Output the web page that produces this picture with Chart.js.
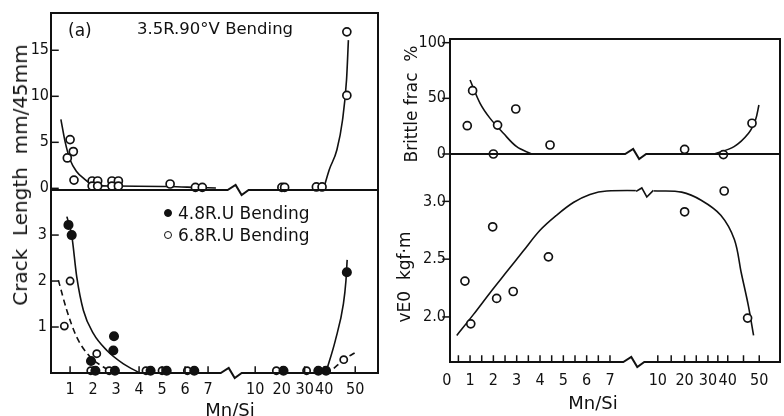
<!DOCTYPE html>
<html><head><meta charset="utf-8">
<script src="https://cdn.jsdelivr.net/npm/chart.js@4"></script>
<style>
html,body{margin:0;padding:0;background:#fff;overflow:hidden;width:784px;height:416px;}
#wrap{position:relative;width:784px;height:416px;overflow:hidden;font-family:"DejaVu Sans",sans-serif;color:#111;}
canvas{position:absolute;}
.t{position:absolute;white-space:nowrap;line-height:1;}
.rot{transform:translate(-50%,-50%) rotate(-90deg);}
.ctr{transform:translate(-50%,-50%);}
.mk{display:inline-block;width:8px;height:8px;border-radius:50%;border:1.6px solid #111;box-sizing:border-box;vertical-align:middle;margin-right:6px;position:relative;top:-1px;}
</style></head><body><div id="wrap">
<canvas id="c1" width="390" height="200" style="left:0;top:0"></canvas>
<canvas id="c2" width="390" height="240" style="left:0;top:190px"></canvas>
<canvas id="c3" width="394" height="165" style="left:390px;top:0"></canvas>
<canvas id="c4" width="394" height="262" style="left:390px;top:154px"></canvas>
<div class="t" style="left:68px;top:22px;font-size:17px">(a)</div>
<div class="t" style="left:137px;top:21px;font-size:16.5px">3.5R.90°V Bending</div>
<div id="legend"></div>
<div class="t rot" style="left:20px;top:175px;font-size:20px">Crack&nbsp; Length&nbsp; mm/45mm</div>
<div class="t rot" style="left:411px;top:104px;font-size:17px">Brittle frac&nbsp; %</div>
<div class="t rot" style="left:404px;top:277px;font-size:17px">vE0&nbsp; kgf·m</div>
<div class="t ctr" style="left:230px;top:410px;font-size:18px">Mn/Si</div>
<div class="t ctr" style="left:593px;top:403px;font-size:18px">Mn/Si</div>
</div>
<script>
// ---------- axis tick values / labels ----------
const leftTickValues  = [1,2,3,4,5,6,7,10,20,30,40,50];
const leftTickLabels  = ['1','2','3','4','5','6','7','10','20','30','40','50'];
const rightTickValues = [0,1,2,3,4,5,6,7,10,20,30,40,50];
const rightTickLabels = ['0','1','2','3','4','5','6','7','10','20','30','40','50'];
const leftMinorTicks  = [1,2,3,4,5,6,7,10,20,30,40,50];
const rightMinorTicks = [0.5,1,1.5,2,2.5,3,3.5,4,4.5,5,5.5,6,6.5,7,10,15,20,25,30,35,40,45,50];
const crackTopTicks = [0,5,10,15];
const crackTopLabels = ['0','5','10','15'];
const crackBottomTicks = [1,2,3];
const crackBottomLabels = ['1','2','3'];
const brittleTicks = [0,50,100];
const brittleLabels = ['0','50','100'];
const ve0Ticks = [2.0,2.5,3.0];
const ve0Labels = ['2.0','2.5','3.0'];

// broken Mn/Si axis: value -> axis position
const axisBreakValues    = [0,1,2,3,4,5,6,7,10,20,30,40,50];
const axisBreakPositions = [0,1,2,3,4,5,6,7,9.05,10.2,11.2,12.05,13.4];

// ---------- (a) 3.5R.90°V Bending ----------
const vBendX = [0.88,1.0,1.14,1.17,1.96,2.2,1.96,2.2,2.82,3.1,2.82,3.1,5.35,6.45,6.75,20.1,21.3,36,38.9,47.3,47.3];
const vBendY = [3.3,5.3,4.0,0.9,0.8,0.8,0.25,0.25,0.8,0.8,0.25,0.25,0.47,0.1,0.1,0.1,0.1,0.15,0.15,10.1,17.0];
const vBendFitLowX  = [0.6,0.78,1.0,1.29,1.58,1.87,2.3,3.0,5.3,6.5,7.5];
const vBendFitLowY  = [7.5,5.1,3.1,1.8,1.1,0.55,0.3,0.25,0.2,0.1,0.03];
const vBendFitHighX = [40,41.6,44.1,45.9,47.2,47.8];
const vBendFitHighY = [0.17,2.0,4.2,7.4,11.8,16.1];

// ---------- U bending ----------
const legendNames = ['4.8R.U Bending','6.8R.U Bending'];
const u48X = [0.93,1.07,2.91,2.88,1.91,2.1,2.95,4.5,5.2,6.4,20.8,37,40.6,47.3];
const u48Y = [3.22,3.0,0.8,0.49,0.26,0.05,0.05,0.05,0.05,0.05,0.05,0.05,0.05,2.19];
const u68X = [0.75,1.0,2.16,1.9,2.7,4.3,5.0,6.1,18,31,46.3];
const u68Y = [1.02,2.0,0.42,0.05,0.05,0.05,0.05,0.05,0.05,0.05,0.29];
const u48FitLowX  = [0.86,1.07,1.29,1.58,2.01,2.6,3.32,4.04];
const u48FitLowY  = [3.4,3.0,2.09,1.36,0.86,0.49,0.2,0];
const u48FitHighX = [40.5,43.6,46.2,47.0,47.4];
const u48FitHighY = [0,0.71,1.51,2.0,2.46];
const u68FitLowX  = [0.49,0.86,1.29,1.87,2.45,2.81];
const u68FitLowY  = [2.02,1.36,0.78,0.35,0.13,0.02];
const u68FitHighX = [43.1,46.3,49.9];
const u68FitHighY = [0.1,0.29,0.44];

// ---------- Brittle fracture % ----------
const brittleX = [0.88,1.11,2.0,2.18,2.96,4.43,20,37.8,47.7];
const brittleY = [25.4,56.9,0,26,40.4,8.1,4.2,-0.5,27.6];
const brittleFitLowX  = [1.0,1.43,1.86,2.43,3.0,3.64];
const brittleFitLowY  = [66.5,45.5,32,18.6,6.6,0];
const brittleFitHighX = [33.2,42,46.6,48.8,49.9];
const brittleFitHighY = [0,6.6,18.6,30.5,44];

// ---------- vE0 kgf·m ----------
const ve0X = [0.78,1.03,1.97,2.14,2.85,4.36,20,38.2,46.3];
const ve0Y = [2.31,1.94,2.78,2.16,2.22,2.52,2.91,3.09,1.99];
const ve0FitX = [0.43,1.14,1.86,2.57,3.28,4.0,4.71,5.43,6.14,6.86,10,18.9,27.1,36.5,42.1,44.3,46.6,48.2];
const ve0FitY = [1.84,2.02,2.21,2.39,2.57,2.75,2.88,2.99,3.06,3.09,3.09,3.08,3.01,2.88,2.67,2.38,2.09,1.84];

// ======================================================
const INK = '#111';
const TICK_FONT = '"DejaVu Sans Condensed", "Liberation Sans Narrow", "DejaVu Sans", sans-serif';
Chart.defaults.font.family = '"DejaVu Sans", sans-serif';
Chart.defaults.font.size = 15;
Chart.defaults.color = INK;
Chart.defaults.animation = false;

function toPos(v){
  const xs = axisBreakValues, ps = axisBreakPositions;
  if (v <= xs[0]) return ps[0] + (v - xs[0]);
  for (let i = 1; i < xs.length; i++) {
    if (v <= xs[i]) { const t = (v - xs[i-1]) / (xs[i] - xs[i-1]); return ps[i-1] + t * (ps[i] - ps[i-1]); }
  }
  const n = xs.length - 1;
  return ps[n] + (v - xs[n]) * (ps[n] - ps[n-1]) / (xs[n] - xs[n-1]);
}
const pts = (xs, ys) => xs.map((v, i) => ({x: toPos(v), y: ys[i]}));

const markers = (xs, ys, filled, r) => ({
  data: pts(xs, ys), showLine: false, clip: false,
  pointStyle: 'circle', pointRadius: r, pointBorderWidth: 1.7,
  pointBorderColor: INK, pointBackgroundColor: filled ? INK : '#fff'
});
const curve = (xs, ys, dashed, smooth) => ({
  data: pts(xs, ys), showLine: true, clip: false, pointRadius: 0, fill: false,
  borderColor: INK, borderWidth: 1.6,
  cubicInterpolationMode: smooth ? 'default' : 'monotone', tension: smooth ? 0.35 : 0,
  borderDash: dashed ? [6, 4] : []
});

const framePlugin = {
  id: 'frame',
  afterDatasetsDraw(chart, args, o) {
    const {ctx, chartArea: a} = chart;
    const xs = chart.scales.x, ys = chart.scales.y;
    ctx.save();
    ctx.strokeStyle = INK; ctx.lineCap = 'square'; ctx.lineJoin = 'miter';
    const seg = (x1, y1, x2, y2, w) => { ctx.lineWidth = w; ctx.beginPath(); ctx.moveTo(x1, y1); ctx.lineTo(x2, y2); ctx.stroke(); };
    if (o.top) seg(a.left, a.top, a.right, a.top, 2);
    seg(a.left, a.top, a.left, a.bottom, 2);
    seg(a.right, a.top, a.right, a.bottom, 2);
    if (o.bottom) {
      const xb = xs.getPixelForValue(o.breakPos), y = a.bottom;
      ctx.lineWidth = 2; ctx.beginPath();
      ctx.moveTo(a.left, y); ctx.lineTo(xb, y); ctx.lineTo(xb + 8, y - 5); ctx.lineTo(xb + 14, y + 5); ctx.lineTo(xb + 21, y); ctx.lineTo(a.right, y);
      ctx.stroke();
    }
    if (o.xTicks) o.xTicks.forEach(v => { const p = xs.getPixelForValue(toPos(v)); seg(p, a.bottom, p, a.bottom - 6, 1.5); });
    if (o.yTicks) o.yTicks.forEach(v => { const p = ys.getPixelForValue(v); seg(a.left, p, a.left + 7 * o.yDir, p, 1.5); });
    if (o.curveBreak !== undefined) {
      const el = chart.getDatasetMeta(o.curveBreak).data;
      const xb = xs.getPixelForValue(o.curveBreakPos);
      let y = null;
      for (let i = 1; i < el.length; i++) {
        if (el[i-1].x <= xb + 8 && el[i].x >= xb + 8) { const t = (xb + 8 - el[i-1].x) / (el[i].x - el[i-1].x); y = el[i-1].y + t * (el[i].y - el[i-1].y); break; }
      }
      if (y !== null) {
        ctx.strokeStyle = '#fff'; seg(xb + 1, y, xb + 15, y, 4);
        ctx.strokeStyle = INK; ctx.lineWidth = 1.6; ctx.beginPath();
        ctx.moveTo(xb, y); ctx.lineTo(xb + 5, y - 3); ctx.lineTo(xb + 10, y + 6); ctx.lineTo(xb + 16, y); ctx.stroke();
      }
    }
    ctx.restore();
  }
};

function zeroPad(s){ s.paddingTop = 0; s.paddingBottom = 0; s.paddingLeft = 0; s.paddingRight = 0; }

function yAxis(min, max, tv, tl, width, pad) {
  return {
    type: 'linear', min, max,
    afterBuildTicks: s => { s.ticks = tv.map(v => ({value: v})); },
    afterFit: s => { s.width = width; zeroPad(s); },
    ticks: {padding: pad, font: {size: 16, family: TICK_FONT}, callback: (v, i) => tl[i]},
    grid: {display: false, drawTicks: false}, border: {display: false}
  };
}
function xAxis(min, max, tv, tl, show, height, pad) {
  if (!show) return {type: 'linear', min, max, display: false};
  return {
    type: 'linear', min, max,
    afterBuildTicks: s => { s.ticks = tv.map(v => ({value: toPos(v)})); },
    afterFit: s => { s.height = height; zeroPad(s); },
    ticks: {padding: pad, autoSkip: false, maxRotation: 0, minRotation: 0, font: {size: 16, family: TICK_FONT}, callback: (v, i) => tl[i]},
    grid: {display: false, drawTicks: false}, border: {display: false}
  };
}
function make(id, datasets, scales, padding, frame) {
  return new Chart(document.getElementById(id), {
    type: 'scatter',
    data: {datasets},
    options: {
      responsive: false, devicePixelRatio: 1, events: [],
      layout: {autoPadding: false, padding},
      plugins: {legend: {display: false}, tooltip: {enabled: false}, frame},
      scales
    },
    plugins: [framePlugin]
  });
}

// (a) top-left
make('c1', [
  markers(vBendX, vBendY, false, 4),
  curve(vBendFitLowX, vBendFitLowY, false),
  curve(vBendFitHighX, vBendFitHighY, false)
], {
  x: xAxis(0.17, 14.39, leftTickValues, leftTickLabels, false),
  y: yAxis(-0.18, 19.05, crackTopTicks, crackTopLabels, 51, 2)
}, {left: 0, top: 13, right: 12, bottom: 10},
{top: true, bottom: true, breakPos: 7.85, yTicks: crackTopTicks, yDir: 1});

// bottom-left
make('c2', [
  markers(u48X, u48Y, true, 4.2),
  markers(u68X, u68Y, false, 3.6),
  curve(u48FitLowX, u48FitLowY, false),
  curve(u48FitHighX, u48FitHighY, false),
  curve(u68FitLowX, u68FitLowY, true),
  curve(u68FitHighX, u68FitHighY, true)
], {
  x: xAxis(0.17, 14.39, leftTickValues, leftTickLabels, true, 57, 7),
  y: yAxis(0, 3.98, crackBottomTicks, crackBottomLabels, 51, 4)
}, {left: 0, top: 0, right: 12, bottom: 0},
{top: false, bottom: true, breakPos: 7.55, xTicks: leftMinorTicks, yTicks: crackBottomTicks, yDir: 1});

// top-right
make('c3', [
  markers(brittleX, brittleY, false, 4),
  curve(brittleFitLowX, brittleFitLowY, false, true),
  curve(brittleFitHighX, brittleFitHighY, false, true)
], {
  x: xAxis(0.14, 14.29, rightTickValues, rightTickLabels, false),
  y: yAxis(0, 103.3, brittleTicks, brittleLabels, 60, 4)
}, {left: 0, top: 39, right: 4, bottom: 11},
{top: true, bottom: true, breakPos: 7.65, yTicks: brittleTicks, yDir: -1});

// bottom-right
make('c4', [
  markers(ve0X, ve0Y, false, 4),
  curve(ve0FitX, ve0FitY, false, true)
], {
  x: xAxis(0.14, 14.29, rightTickValues, rightTickLabels, true, 54, 9),
  y: yAxis(1.61, 3.41, ve0Ticks, ve0Labels, 60, 4)
}, {left: 0, top: 0, right: 4, bottom: 0},
{top: false, bottom: true, breakPos: 7.57, xTicks: rightMinorTicks, yTicks: ve0Ticks, yDir: -1, curveBreak: 1, curveBreakPos: 8.15});

// legend for U bending panel
const lg = document.getElementById('legend');
legendNames.forEach((name, i) => {
  const d = document.createElement('div');
  d.className = 't';
  d.style.left = '164px';
  d.style.top = (205 + i * 22) + 'px';
  d.style.fontSize = '17px';
  const m = document.createElement('span');
  m.className = 'mk';
  m.style.background = i === 0 ? INK : '#fff';
  d.appendChild(m);
  d.appendChild(document.createTextNode(name));
  lg.appendChild(d);
});
</script>
</body></html>
